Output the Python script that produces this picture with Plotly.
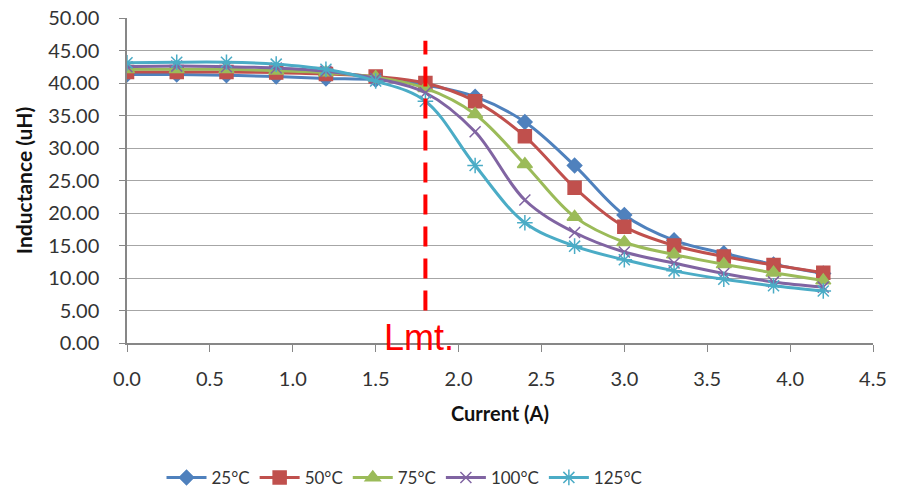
import plotly.graph_objects as go

current = [0.0, 0.3, 0.6, 0.9, 1.2, 1.5, 1.8, 2.1, 2.4, 2.7, 3.0, 3.3, 3.6, 3.9, 4.2]

l_25 = [41.3, 41.3, 41.2, 41.0, 40.7, 40.5, 39.7, 37.9, 34.0, 27.3, 19.7, 15.8, 13.8, 12.1, 10.7]
l_50 = [41.7, 41.7, 41.7, 41.6, 41.4, 41.0, 40.0, 37.2, 31.8, 23.9, 17.9, 15.0, 13.3, 12.0, 10.8]
l_75 = [42.1, 42.1, 42.1, 41.9, 41.6, 40.9, 39.2, 35.2, 27.5, 19.4, 15.5, 13.6, 12.1, 10.8, 9.6]
l_100 = [42.5, 42.6, 42.5, 42.3, 41.8, 40.7, 38.5, 32.5, 22.0, 17.0, 14.0, 12.3, 10.7, 9.4, 8.6]
l_125 = [43.1, 43.2, 43.2, 42.9, 42.1, 40.3, 37.2, 27.3, 18.5, 14.9, 12.8, 11.1, 9.8, 8.8, 8.0]

series_names = ["25°C", "50°C", "75°C", "100°C", "125°C"]
series_values = [l_25, l_50, l_75, l_100, l_125]
colors = ["#4F81BD", "#C0504D", "#9BBB59", "#8064A2", "#4BACC6"]
symbols = ["diamond", "square", "triangle-up", "x-thin-open", "asterisk-open"]
sizes = [11, 13, 13, 11, 13]

limit_x = 1.8
limit_y = [5.0, 46.5]
limit_label = "Lmt."

x_ticks = [0.0, 0.5, 1.0, 1.5, 2.0, 2.5, 3.0, 3.5, 4.0, 4.5]
y_ticks = [0, 5, 10, 15, 20, 25, 30, 35, 40, 45, 50]

fig = go.Figure()
for name, vals, c, sym, sz in zip(series_names, series_values, colors, symbols, sizes):
    fig.add_trace(go.Scatter(
        x=current, y=vals, name=name, mode="lines+markers",
        line=dict(color=c, width=3, shape="spline", smoothing=1.0),
        marker=dict(symbol=sym, size=sz, color=c, line=dict(color=c, width=1.5)),
    ))

fig.add_shape(type="line", x0=limit_x, x1=limit_x, y0=limit_y[0], y1=limit_y[1],
              xref="x", yref="y", line=dict(color="#FF0000", width=4, dash="20px,12px"))
fig.add_annotation(x=limit_x, y=0.8, xref="x", yref="y", text=limit_label, showarrow=False,
                   xanchor="center", yanchor="middle", xshift=-6,
                   font=dict(family="Liberation Sans, Arial", size=36, color="#FF0000"))

fig.update_layout(
    width=908, height=490,
    margin=dict(l=127, r=35, t=18, b=147, autoexpand=False),
    paper_bgcolor="white", plot_bgcolor="white",
    font=dict(family="Lato, Open Sans, sans-serif", size=20, color="#333333"),
    showlegend=True,
    legend=dict(orientation="h", x=0.372, xanchor="center", y=-0.415, yanchor="middle",
                font=dict(size=17, color="#333333"), itemwidth=40, tracegroupgap=0),
    xaxis=dict(
        range=[0, 4.5], tickvals=x_ticks, tickformat=".1f",
        showgrid=False, zeroline=False, automargin=False,
        showline=True, linecolor="#878787", linewidth=1.5,
        ticks="outside", ticklen=7, tickcolor="#878787", ticklabelstandoff=10,
        title=dict(text="<b>Current (A)</b>", font=dict(size=20, color="#111111"), standoff=18),
    ),
    yaxis=dict(
        range=[0, 50], tickvals=y_ticks, tickformat=".2f",
        showgrid=True, gridcolor="#A6A6A6", gridwidth=1.2, zeroline=False, automargin=False,
        showline=True, linecolor="#878787", linewidth=1.5,
        ticks="outside", ticklen=6, tickcolor="#878787", ticklabelstandoff=16,
        title=dict(text="<b>Inductance (uH)</b>", font=dict(size=21, color="#111111"), standoff=10),
    ),
)

fig.write_html("out.html")
